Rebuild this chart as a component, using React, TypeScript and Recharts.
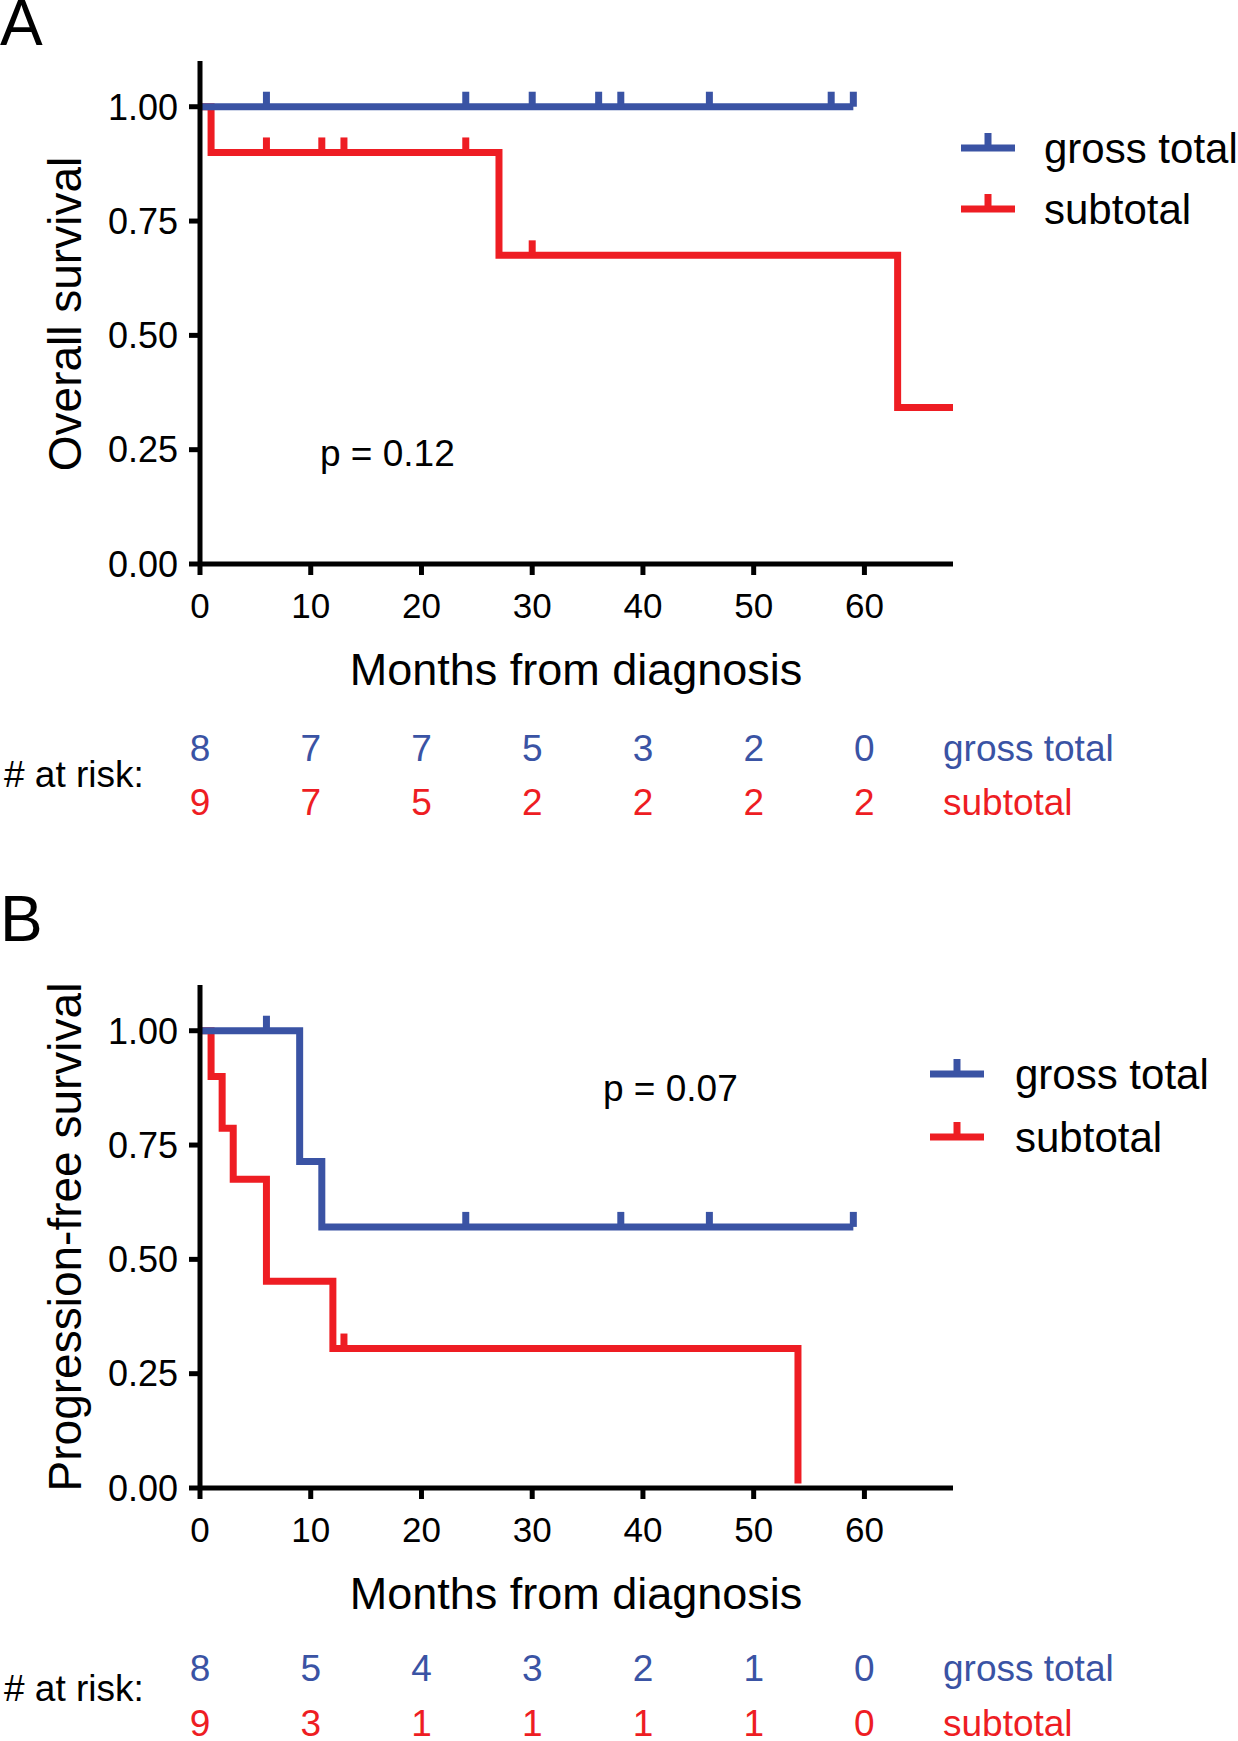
import React from 'react';
import { ComposedChart, Line, Scatter, XAxis, YAxis } from 'recharts';

const BLUE = '#3A53A4';
const RED = '#EE1D23';
const FONT = '"Liberation Sans", Arial, Helvetica, sans-serif';

// shared axes
const monthTicks = [0, 10, 20, 30, 40, 50, 60];
const survivalTicks = [0, 0.25, 0.5, 0.75, 1];

// Panel A – overall survival (step curves)
const osGrossSteps = [
  { t: 0, s: 1 },
  { t: 59, s: 1 },
];
const osGrossCensors = [
  { t: 6, s: 1 }, { t: 24, s: 1 }, { t: 30, s: 1 }, { t: 36, s: 1 },
  { t: 38, s: 1 }, { t: 46, s: 1 }, { t: 57, s: 1 }, { t: 59, s: 1 },
];
const osSubSteps = [
  { t: 0, s: 1 },
  { t: 1, s: 0.9 },
  { t: 27, s: 0.675 },
  { t: 63, s: 0.342 },
  { t: 68, s: 0.342 },
];
const osSubCensors = [
  { t: 6, s: 0.9 }, { t: 11, s: 0.9 }, { t: 13, s: 0.9 },
  { t: 24, s: 0.9 }, { t: 30, s: 0.675 },
];
const osAtRiskGross = [8, 7, 7, 5, 3, 2, 0];
const osAtRiskSub = [9, 7, 5, 2, 2, 2, 2];

// Panel B – progression-free survival
const pfsGrossSteps = [
  { t: 0, s: 1 },
  { t: 9, s: 0.714 },
  { t: 11, s: 0.571 },
  { t: 59, s: 0.571 },
];
const pfsGrossCensors = [
  { t: 6, s: 1 }, { t: 24, s: 0.571 }, { t: 38, s: 0.571 },
  { t: 46, s: 0.571 }, { t: 59, s: 0.571 },
];
const pfsSubSteps = [
  { t: 0, s: 1 },
  { t: 1, s: 0.9 },
  { t: 2, s: 0.787 },
  { t: 3, s: 0.675 },
  { t: 6, s: 0.452 },
  { t: 12, s: 0.305 },
  { t: 54, s: 0.01 },
];
const pfsSubCensors = [{ t: 13, s: 0.305 }];
const pfsAtRiskGross = [8, 5, 4, 3, 2, 1, 0];
const pfsAtRiskSub = [9, 3, 1, 1, 1, 1, 0];

// layout
const W = 1238;
const AXIS_Y = 564; // plot bottom inside each chart
const PLOT_LEFT = 200;
const PLOT_RIGHT = 953;
const PLOT_TOP = 61;
const YAXIS_W = 100;
const XAXIS_H = 60;
const LINE_W = 7;
const AXIS_W = 5;

const censorShape = (color: string) => (props: any) => {
  const { cx, cy } = props;
  if (cx == null || cy == null) return <g />;
  return <line x1={cx} x2={cx} y1={cy} y2={cy - 15} stroke={color} strokeWidth={LINE_W} />;
};

const makeXTick = (gross: number[], sub: number[], blueY: number, redY: number) => (props: any) => {
  const { x, payload } = props;
  const i = monthTicks.indexOf(payload.value);
  return (
    <g>
      <text x={x} y={AXIS_Y + 54} textAnchor="middle" fontSize={35} fontFamily={FONT} fill="#000">
        {payload.value}
      </text>
      <text x={x} y={blueY} textAnchor="middle" fontSize={37} fontFamily={FONT} fill={BLUE}>
        {gross[i]}
      </text>
      <text x={x} y={redY} textAnchor="middle" fontSize={37} fontFamily={FONT} fill={RED}>
        {sub[i]}
      </text>
    </g>
  );
};

type Pt = { t: number; s: number };
type PanelProps = {
  top: number;
  height: number;
  grossSteps: Pt[];
  grossCensors: Pt[];
  subSteps: Pt[];
  subCensors: Pt[];
  atRiskGross: number[];
  atRiskSub: number[];
  blueY: number;
  redY: number;
};

const Panel = (p: PanelProps) => (
  <div style={{ position: 'absolute', left: 0, top: p.top, width: W, height: p.height }}>
    <ComposedChart
      width={W}
      height={p.height}
      margin={{
        top: PLOT_TOP,
        left: PLOT_LEFT - YAXIS_W,
        right: W - PLOT_RIGHT,
        bottom: p.height - AXIS_Y - XAXIS_H,
      }}
    >
      <XAxis
        type="number"
        dataKey="t"
        domain={[0, 68]}
        ticks={monthTicks}
        interval={0}
        height={XAXIS_H}
        axisLine={{ stroke: '#000', strokeWidth: AXIS_W }}
        tickLine={{ stroke: '#000', strokeWidth: AXIS_W }}
        tickSize={11}
        tick={makeXTick(p.atRiskGross, p.atRiskSub, p.blueY, p.redY)}
      />
      <YAxis
        type="number"
        dataKey="s"
        domain={[0, 1.1]}
        ticks={survivalTicks}
        interval={0}
        width={YAXIS_W}
        axisLine={{ stroke: '#000', strokeWidth: AXIS_W }}
        tickLine={{ stroke: '#000', strokeWidth: AXIS_W }}
        tickSize={11}
        tickMargin={11}
        tickFormatter={(v: number) => v.toFixed(2)}
        tick={{ fontSize: 36, fill: '#000', fontFamily: FONT }}
      />
      <Line
        data={p.subSteps}
        dataKey="s"
        type="stepAfter"
        stroke={RED}
        strokeWidth={LINE_W}
        dot={false}
        activeDot={false}
        isAnimationActive={false}
        strokeLinejoin="miter"
      />
      <Scatter data={p.subCensors} dataKey="s" shape={censorShape(RED)} isAnimationActive={false} />
      <Line
        data={p.grossSteps}
        dataKey="s"
        type="stepAfter"
        stroke={BLUE}
        strokeWidth={LINE_W}
        dot={false}
        activeDot={false}
        isAnimationActive={false}
        strokeLinejoin="miter"
      />
      <Scatter data={p.grossCensors} dataKey="s" shape={censorShape(BLUE)} isAnimationActive={false} />
    </ComposedChart>
  </div>
);

const Legend = ({ x, yBlue, yRed, textX }: { x: number; yBlue: number; yRed: number; textX: number }) => (
  <g>
    <line x1={x} x2={x + 54} y1={yBlue} y2={yBlue} stroke={BLUE} strokeWidth={LINE_W} />
    <line x1={x + 27} x2={x + 27} y1={yBlue} y2={yBlue - 15} stroke={BLUE} strokeWidth={LINE_W} />
    <text x={textX} y={yBlue + 15} fontSize={42} fontFamily={FONT} fill="#000">gross total</text>
    <line x1={x} x2={x + 54} y1={yRed} y2={yRed} stroke={RED} strokeWidth={LINE_W} />
    <line x1={x + 27} x2={x + 27} y1={yRed} y2={yRed - 15} stroke={RED} strokeWidth={LINE_W} />
    <text x={textX} y={yRed + 15} fontSize={42} fontFamily={FONT} fill="#000">subtotal</text>
  </g>
);

const Overlay = () => (
  <svg
    width={W}
    height={1741}
    style={{ position: 'absolute', left: 0, top: 0, pointerEvents: 'none' }}
  >
    {/* Panel A */}
    <text x={0} y={45} fontSize={64} fontFamily={FONT} fill="#000">A</text>
    <text
      transform="translate(81,314) rotate(-90)"
      textAnchor="middle"
      fontSize={46}
      fontFamily={FONT}
      fill="#000"
    >
      Overall survival
    </text>
    <text x={576} y={685} textAnchor="middle" fontSize={45} fontFamily={FONT} fill="#000">
      Months from diagnosis
    </text>
    <text x={320} y={466} fontSize={37} fontFamily={FONT} fill="#000">p = 0.12</text>
    <Legend x={961} yBlue={148} yRed={209} textX={1044} />
    <text x={4} y={787} fontSize={37} fontFamily={FONT} fill="#000"># at risk:</text>
    <text x={943} y={761} fontSize={37} fontFamily={FONT} fill={BLUE}>gross total</text>
    <text x={943} y={815} fontSize={37} fontFamily={FONT} fill={RED}>subtotal</text>

    {/* Panel B */}
    <text x={0} y={941} fontSize={64} fontFamily={FONT} fill="#000">B</text>
    <text
      transform="translate(81,1237) rotate(-90)"
      textAnchor="middle"
      fontSize={46}
      fontFamily={FONT}
      fill="#000"
    >
      Progression-free survival
    </text>
    <text x={576} y={1609} textAnchor="middle" fontSize={45} fontFamily={FONT} fill="#000">
      Months from diagnosis
    </text>
    <text x={603} y={1101} fontSize={37} fontFamily={FONT} fill="#000">p = 0.07</text>
    <Legend x={930} yBlue={1074} yRed={1137} textX={1015} />
    <text x={4} y={1701} fontSize={37} fontFamily={FONT} fill="#000"># at risk:</text>
    <text x={943} y={1681} fontSize={37} fontFamily={FONT} fill={BLUE}>gross total</text>
    <text x={943} y={1736} fontSize={37} fontFamily={FONT} fill={RED}>subtotal</text>
  </svg>
);

export default function App() {
  return (
    <div style={{ position: 'absolute', left: 0, top: 0, width: W, height: 1741, background: '#fff', overflow: 'hidden' }}>
      <Panel
        top={0}
        height={880}
        grossSteps={osGrossSteps}
        grossCensors={osGrossCensors}
        subSteps={osSubSteps}
        subCensors={osSubCensors}
        atRiskGross={osAtRiskGross}
        atRiskSub={osAtRiskSub}
        blueY={761}
        redY={815}
      />
      <Panel
        top={924}
        height={817}
        grossSteps={pfsGrossSteps}
        grossCensors={pfsGrossCensors}
        subSteps={pfsSubSteps}
        subCensors={pfsSubCensors}
        atRiskGross={pfsAtRiskGross}
        atRiskSub={pfsAtRiskSub}
        blueY={757}
        redY={812}
      />
      <Overlay />
    </div>
  );
}
